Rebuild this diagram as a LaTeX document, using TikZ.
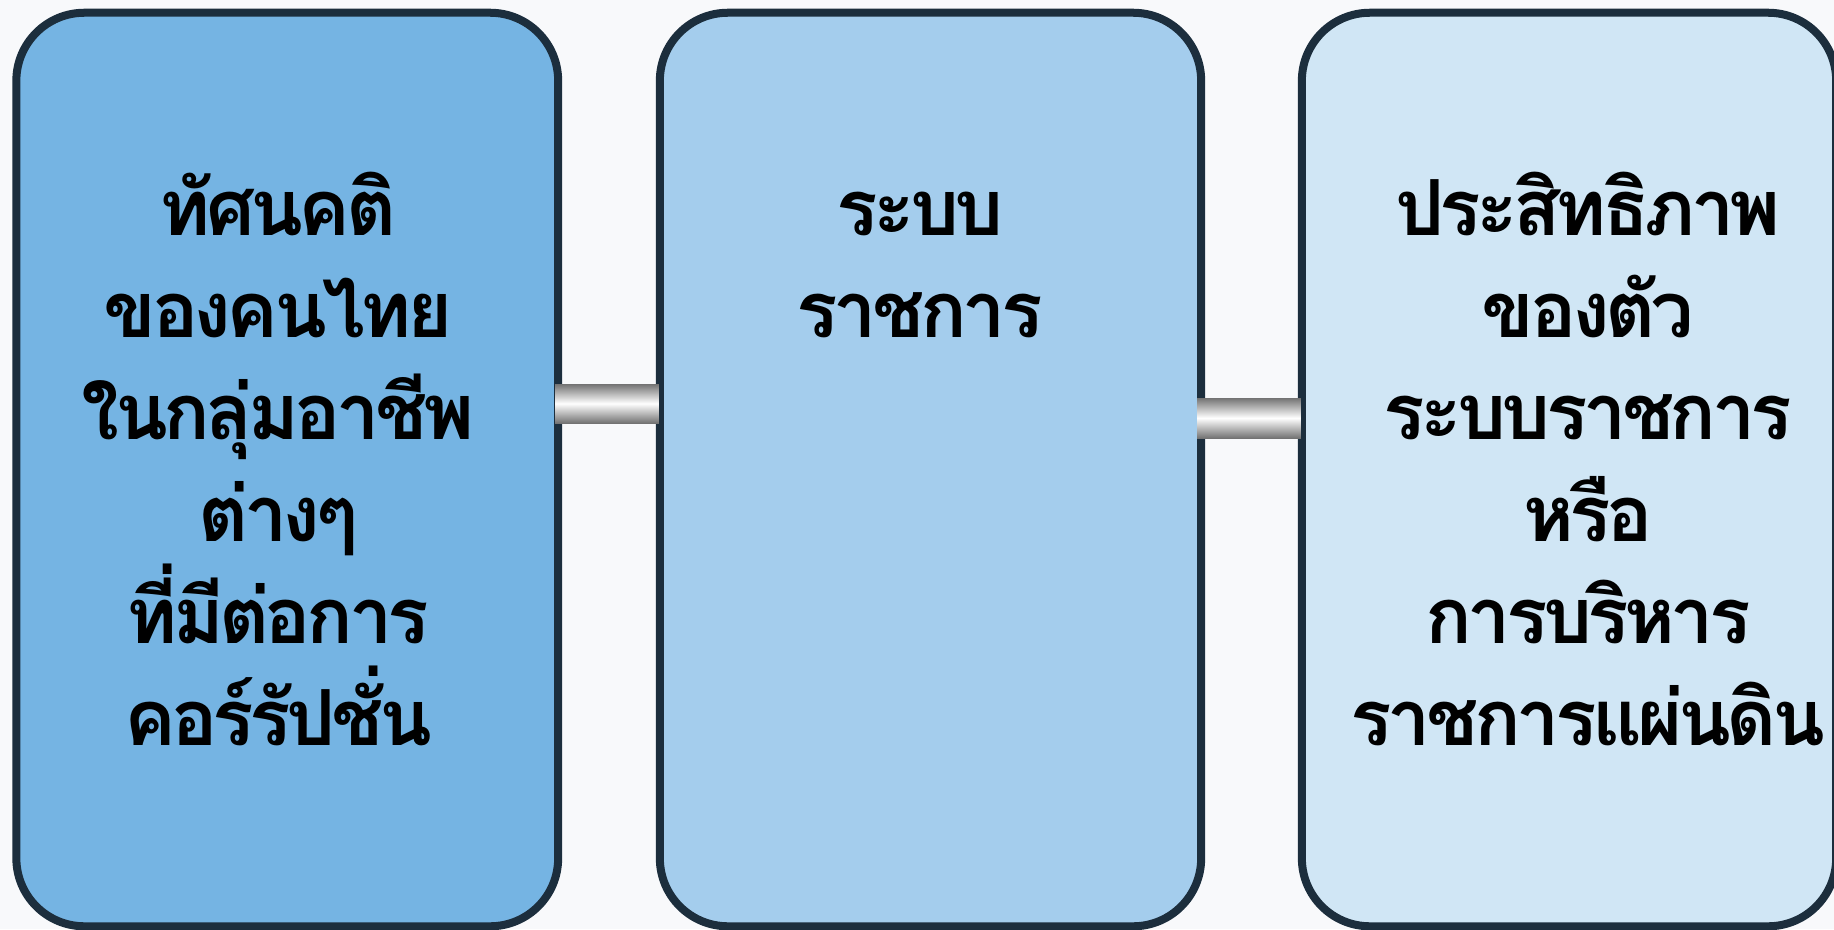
\documentclass[tikz,border=0pt]{standalone}
\usepackage{fontspec}
\newfontfamily\thaifont[Script=Thai, LetterSpace=-6]{Loma}
\definecolor{paper}{HTML}{F8F9FB}
\definecolor{boxline}{HTML}{1C2E3D}
\definecolor{blueA}{HTML}{75B4E3}
\definecolor{blueB}{HTML}{A4CDED}
\definecolor{blueC}{HTML}{D0E6F5}

\begin{document}
\begin{tikzpicture}[x=0.01cm, y=0.01cm,
    box/.style={draw=boxline, line width=0.08cm, rounded corners=0.68cm, minimum height=9.13cm, inner sep=0pt},
    thaitext/.style={anchor=base, align=center, inner sep=0pt, font=\thaifont\bfseries\fontsize{22}{29}\selectfont},
    bar/.style={top color=black!55, bottom color=black!55, middle color=white}]
    \useasboundingbox (0,0) rectangle (1834,929);
    \fill[paper] (0,0) rectangle (1834,929);
    \clip (0,0) rectangle (1834,929);
    \node[box, fill=blueA, minimum width=5.415cm] (attitude) at (287.25,459.5) {};
    \node[box, fill=blueB, minimum width=5.41cm] (system) at (930.5,459.5) {};
    \node[box, fill=blueC, minimum width=5.34cm] (effect) at (1569,459.5) {};
    \path[bar] ([xshift=-0.07cm]attitude.east |- 0,506) rectangle ([xshift=0.03cm]system.west |- 0,545);
    \path[bar] ([xshift=-0.08cm]system.east |- 0,491) rectangle ([xshift=0.03cm]effect.west |- 0,531);
    \node[thaitext] (attitudeText) at (278,184) {ทัศนคติ\\ของคนไทย\\ในกลุ่มอาชีพ\\ต่างๆ\\ที่มีต่อการ\\คอร์รัปชั่น};
    \node[thaitext] (systemText) at (920,592) {ระบบ\\ราชการ};
    \node[thaitext] (effectText) at (1588,184) {ประสิทธิภาพ\\ของตัว\\ระบบราชการ\\หรือ\\การบริหาร\\ราชการแผ่นดิน};
\end{tikzpicture}
\end{document}
